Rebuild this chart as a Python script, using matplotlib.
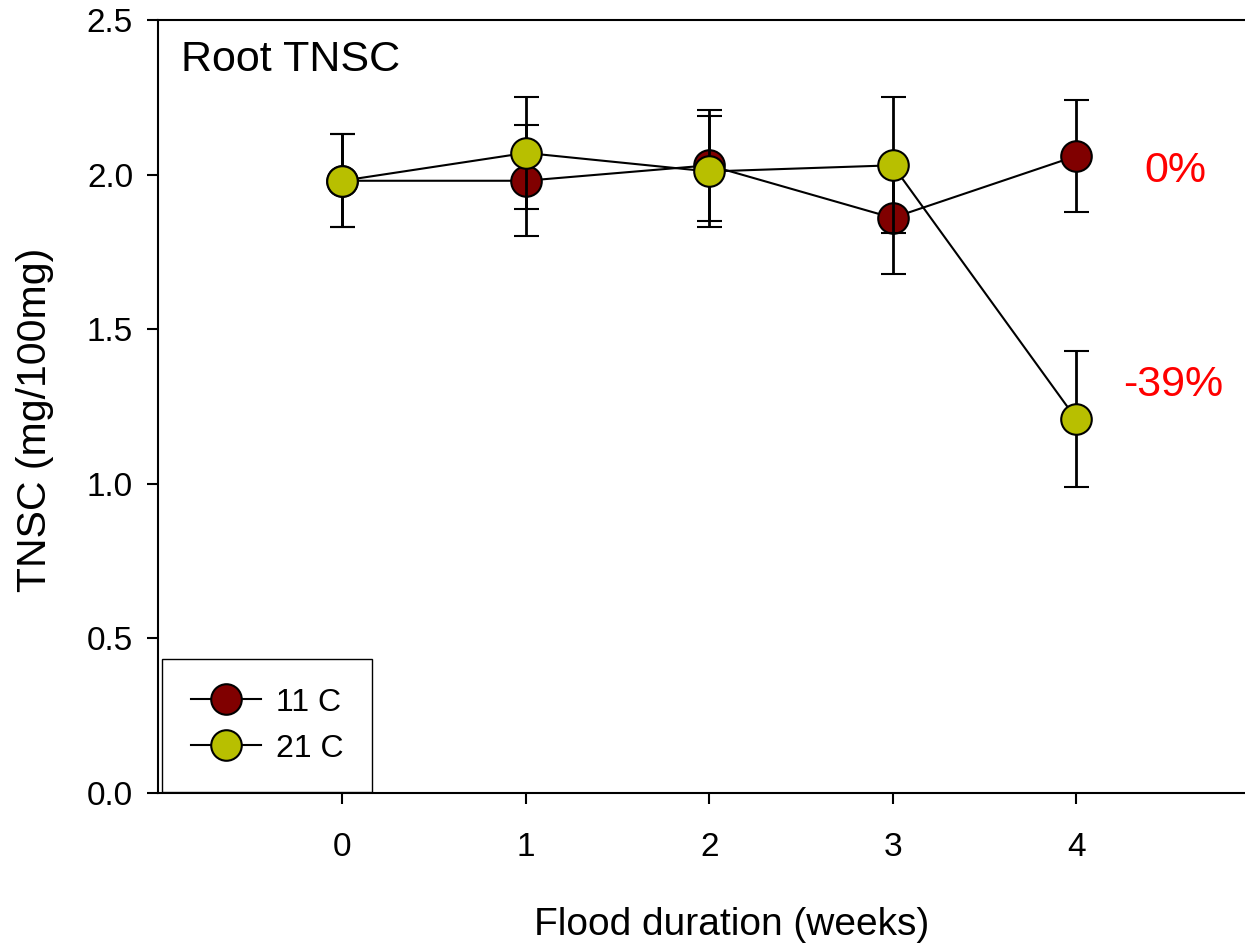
import matplotlib
matplotlib.use("Agg")
import matplotlib.pyplot as plt
from matplotlib.lines import Line2D

plt.rcParams['font.family'] = ['Liberation Sans', 'DejaVu Sans']

# Data
weeks = [0, 1, 2, 3, 4]
tnsc_11c = [1.98, 1.98, 2.03, 1.86, 2.06]
err_11c = [0.15, 0.18, 0.18, 0.18, 0.18]
tnsc_21c = [1.98, 2.07, 2.01, 2.03, 1.21]
err_21c = [0.15, 0.18, 0.18, 0.22, 0.22]
series_labels = ['11 C', '21 C']
pct_labels = ['0%', '-39%']

red = '#800000'
olive = '#b8bf00'
ms = 22

fig = plt.figure(figsize=(12.45, 9.46), dpi=100)
ax = fig.add_axes([0.127, 0.1617, 0.873, 0.8172])

ax.errorbar(weeks, tnsc_11c, yerr=err_11c, color='black', lw=1.5,
            ecolor='black', elinewidth=2, capsize=9, capthick=2,
            marker='o', ms=ms, mfc=red, mec='black', mew=1.5, zorder=2)
ax.errorbar(weeks, tnsc_21c, yerr=err_21c, color='black', lw=1.5,
            ecolor='black', elinewidth=2, capsize=9, capthick=2,
            marker='o', ms=ms, mfc=olive, mec='black', mew=1.5, zorder=3)

ax.set_xlim(-1.003, 4.92)
ax.set_ylim(0, 2.5)
ax.set_xticks(weeks)
ax.set_yticks([0.0, 0.5, 1.0, 1.5, 2.0, 2.5])
ax.set_yticklabels(['0.0', '0.5', '1.0', '1.5', '2.0', '2.5'])
ax.tick_params(axis='both', direction='out', length=8, width=1.5, labelsize=24)
ax.tick_params(axis='x', pad=20)
ax.tick_params(axis='y', pad=10)
ax.spines['right'].set_visible(False)
for s in ['left', 'top', 'bottom']:
    ax.spines[s].set_linewidth(1.5)

ax.set_xlabel('Flood duration (weeks)', fontsize=28)
ax.set_ylabel('TNSC (mg/100mg)', fontsize=29.5)
ax.xaxis.set_label_coords(0.528, -0.148)
ax.yaxis.set_label_coords(-0.096, 0.4825)

ax.text(-0.88, 2.37, 'Root TNSC', fontsize=31, va='center', ha='left')
ax.text(4.54, 2.01, pct_labels[0], fontsize=31, color='red', va='center', ha='center')
ax.text(4.53, 1.32, pct_labels[1], fontsize=31, color='red', va='center', ha='center')

handles = [Line2D([], [], color='black', lw=1.5, marker='o', ms=ms, mfc=c,
                  mec='black', mew=1.5) for c in (red, olive)]
leg = ax.legend(handles, series_labels, loc='lower left',
                bbox_to_anchor=(0.004, 0.001), fontsize=23,
                frameon=True, fancybox=False, edgecolor='black', framealpha=1,
                handlelength=2.2, handletextpad=0.45, labelspacing=0.5,
                borderpad=0.9, borderaxespad=0)
leg.get_frame().set_linewidth(1.0)

fig.savefig('out.png', dpi=100)
